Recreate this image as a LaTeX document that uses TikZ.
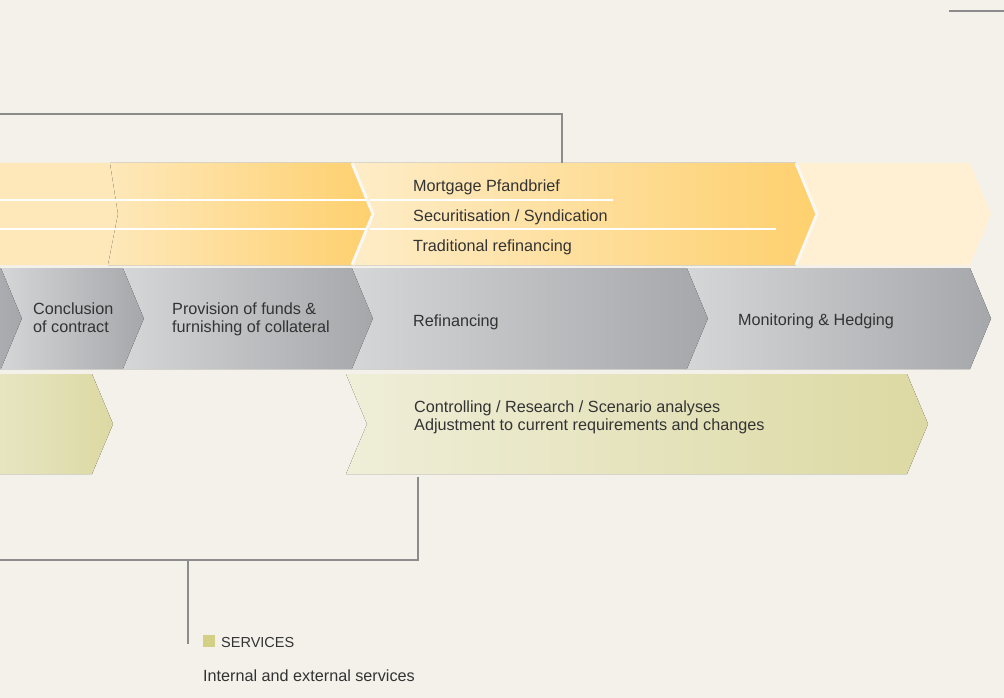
\documentclass[tikz,border=0pt]{standalone}
\usepackage{fontspec}
\setmainfont{Liberation Sans}

\definecolor{paper}{HTML}{F4F1EA}
\definecolor{rule}{HTML}{8C8C8C}
\definecolor{ink}{HTML}{333333}
\definecolor{fundlight}{HTML}{FEE8BA}
\definecolor{funddark}{HTML}{FED06E}
\definecolor{fundpale}{HTML}{FFF0D3}
\definecolor{proclight}{HTML}{D5D6D8}
\definecolor{procdark}{HTML}{A6A7AA}
\definecolor{servlight}{HTML}{EFEED8}
\definecolor{servdark}{HTML}{DCD9A3}
\definecolor{servkey}{HTML}{D3CF85}

\begin{document}
\begin{tikzpicture}[x=1pt,y=-1pt,
        conn/.style={draw=rule, line width=1.6pt},
        fund/.style={left color=fundlight, right color=funddark},
        gap/.style={draw=paper!50!white, line width=3pt},
        proc/.style={left color=proclight, right color=procdark},
        serv/.style={left color=servlight, right color=servdark},
        sep/.style={draw=white, line width=1.3pt},
        lbl/.style={anchor=base west, inner sep=0pt, text=ink,%
                        font=\fontsize{16.2}{18}\selectfont, align=left}]
    \useasboundingbox (0,0) rectangle (1004,698);
    \fill[paper] (0,0) rectangle (1004,698);
    \clip (0,0) rectangle (1004,698);

    % funding band
    \fill[fundlight] (-5,163) -- (352,163) -- (373,214) -- (352,265) -- (-5,265) -- cycle;
    \fill[fund] (110,163) -- (352,163) -- (373,214) -- (352,265) -- (108,265)
        -- (118,214) -- cycle;
    \fill[fund, left color=fundlight!80!white] (352,163) -- (796,163) -- (817,214)
        -- (796,265) -- (352,265) -- (373,214) -- cycle;
    \fill[fundpale] (796,163) -- (970,163) -- (991,214) -- (970,265) -- (796,265)
        -- (817,214) -- cycle;
    \draw[gap] (352,163) -- (373,214) -- (352,265);
    \draw[gap] (796,163) -- (817,214) -- (796,265);
    \draw[sep] (0,200) -- (366,200) (0,229) -- (366,229);
    \draw[sep] (370,200) -- (613,200) (370,229) -- (776,229);

    % process band
    \foreach \a/\b in {-200/1, 1/123, 123/352, 352/687, 687/970} {
        \fill[proc] (\a,268) -- (\b,268) -- (\b+21,318.5) -- (\b,369)
            -- (\a,369) -- (\a+21,318.5) -- cycle;
    }

    % services band
    \fill[serv, left color=servlight!60!servdark] (-5,374) -- (92,374) -- (113,424)
        -- (92,474) -- (-5,474) -- cycle;
    \fill[serv] (346,374) -- (907,374) -- (928,424) -- (907,474) -- (346,474)
        -- (367,424) -- cycle;

    % texts
    \node[lbl] (mpb) at (413,191) {Mortgage Pfandbrief};
    \node[lbl] (sec) at (413,221) {Securitisation / Syndication};
    \node[lbl] (trad) at (413,251) {Traditional refinancing};
    \node[lbl] (concl) at (33,332) {Conclusion\\of contract};
    \node[lbl] (prov) at (172,332) {Provision of funds \&\\furnishing of collateral};
    \node[lbl] (refin) at (413,326) {Refinancing};
    \node[lbl] (monit) at (738,325) {Monitoring \& Hedging};
    \node[lbl] (ctrl) at (414,430) {Controlling / Research / Scenario analyses\\%
        Adjustment to current requirements and changes};

    % legend
    \node[fill=servkey, inner sep=0pt, minimum size=12pt] (key) at (209,641) {};
    \node[lbl, font=\fontsize{14.5}{17}\selectfont] (servhead) at (221,647) {SERVICES};
    \node[lbl] (servtext) at (203,681) {Internal and external services};

    % connectors
    \coordinate (fundtop) at (562,163);
    \coordinate (topleft) at (0,114);
    \coordinate (servbot) at (418,477);
    \coordinate (botleft) at (0,560);
    \coordinate (branch) at (188,560);
    \coordinate (legtop) at (188,644);
    \coordinate (cornerA) at (949,11);
    \coordinate (cornerB) at (1004,11);
    \draw[conn] (fundtop) |- (topleft);
    \draw[conn] (servbot) |- (botleft);
    \draw[conn] (branch) -- (legtop);
    \draw[conn] (cornerA) -- (cornerB);
\end{tikzpicture}
\end{document}
